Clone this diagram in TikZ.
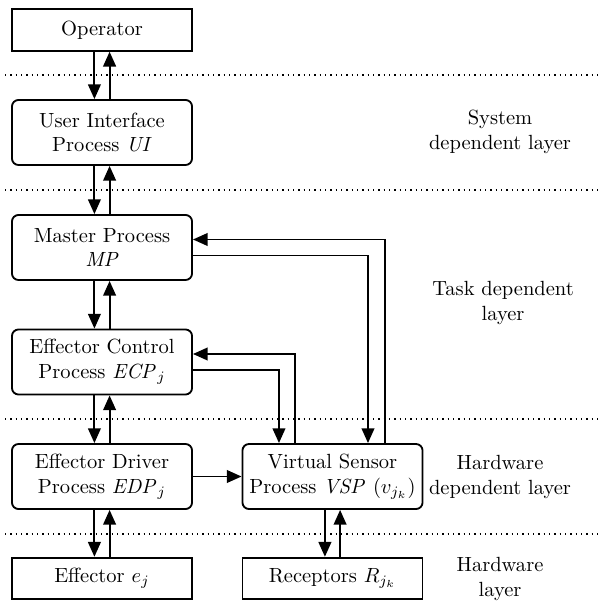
\documentclass[tikz,border=0pt]{standalone}
\usepackage{amsmath,amssymb}
\usepackage{xcolor}
\usepackage{tikz}
\usetikzlibrary{calc,arrows.meta}
\tikzset{
  box/.style={draw, line width=0.9pt, minimum width=87.8pt, minimum height=20.3pt, align=center, inner sep=1pt},
  rbox/.style={box, rounded corners=3.2pt, minimum height=31.7pt},
  arr/.style={line width=0.9pt, -{Triangle[length=7.2pt,width=6.2pt]}},
  sep/.style={line width=0.6pt, dotted},
  lbl/.style={align=center}
}

\begin{document}
\begin{tikzpicture}[x=0.4875pt, y=-0.4875pt]
  \useasboundingbox (0,0) rectangle (599,601);

  % layer separators
  \draw[sep] (5,75) -- (599,75);
  \draw[sep] (5,190) -- (599,190);
  \draw[sep] (5,419) -- (599,419);
  \draw[sep] (5,534) -- (599,534);

  \node[box]  (op)  at (102,30)    {Operator};
  \node[rbox] (ui)  at (102,132.5) {User Interface\\Process \textit{UI}};
  \node[rbox] (mp)  at (102,247.5) {Master Process\\\textit{MP}};
  \node[rbox] (ecp) at (102,362)   {Effector Control\\Process $\mathit{ECP}_j$};
  \node[rbox] (edp) at (102,476.5) {Effector Driver\\Process $\mathit{EDP}_j$};
  \node[box]  (eff) at (102,578.5) {Effector $e_j$};
  \node[rbox] (vsp) at (332.5,476.5) {Virtual Sensor\\Process $\mathit{VSP}$ $(v_{j_k})$};
  \node[box]  (rec) at (332.5,578.5) {Receptors $R_{j_k}$};

  \node[lbl] at (500,132) {System\\dependent layer};
  \node[lbl] at (503,303) {Task dependent\\layer};
  \node[lbl] at (500,477) {Hardware\\dependent layer};
  \node[lbl] at (500,579) {Hardware\\layer};

  % vertical pairs
  \foreach \a/\b in {op/ui, ui/mp, mp/ecp, ecp/edp, edp/eff, vsp/rec} {
    \draw[arr] ([xshift=-3.7pt]\a.south) -- ([xshift=-3.7pt]\b.north);
    \draw[arr] ([xshift=3.7pt]\b.north) -- ([xshift=3.7pt]\a.south);
  }

  % links to the virtual sensor
  \draw[arr] ([yshift=-3.9pt]mp.east) -| ([xshift=17.3pt]vsp.north);
  \draw[arr] ([xshift=25.6pt]vsp.north) |- ([yshift=3.9pt]mp.east);
  \draw[arr] ([yshift=-3.9pt]ecp.east) -| ([xshift=-26.1pt]vsp.north);
  \draw[arr] ([xshift=-18.3pt]vsp.north) |- ([yshift=3.9pt]ecp.east);
  \draw[arr] (edp) -- (vsp);
\end{tikzpicture}
\end{document}
